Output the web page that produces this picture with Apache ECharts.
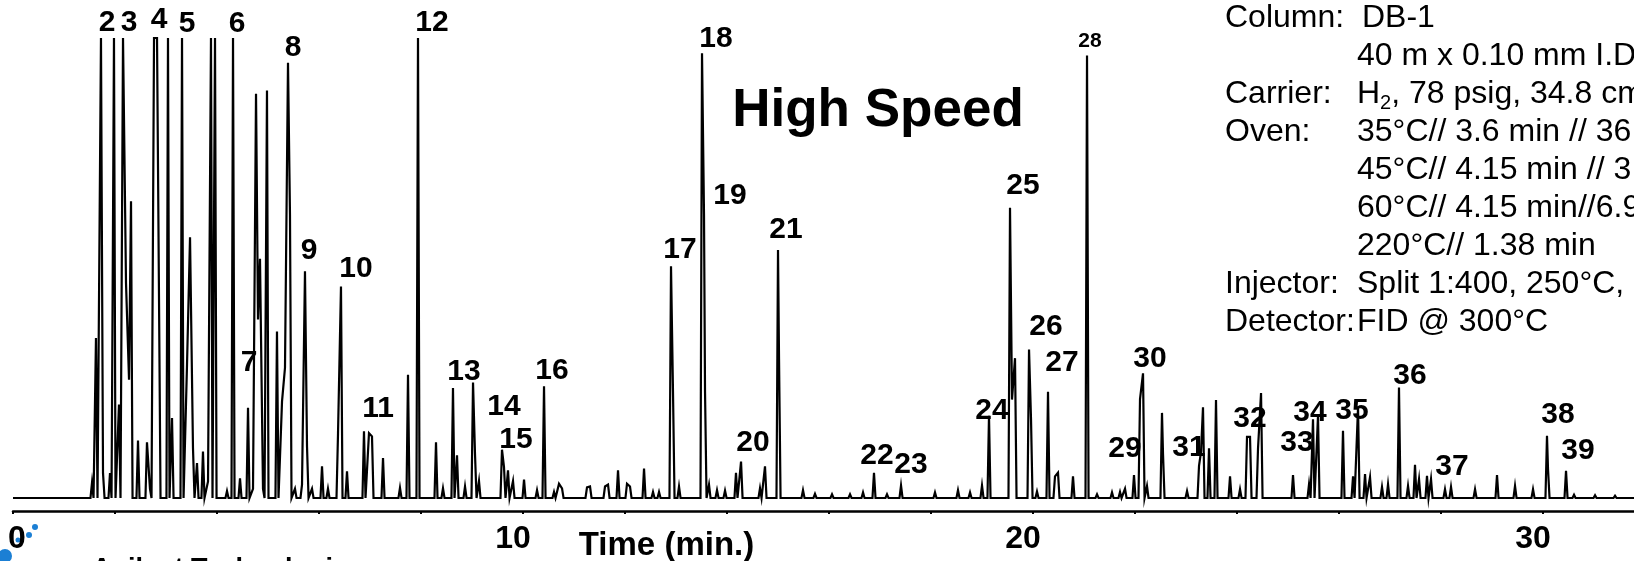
<!DOCTYPE html>
<html>

<head>
    <meta charset="utf-8">
    <script src="https://cdn.jsdelivr.net/npm/echarts/dist/echarts.min.js"></script>
    <style>
        body { margin: 0; background: #fff; }
        #chart { width: 1634px; height: 561px; }
    </style>
</head>

<body>
    <div id="chart"></div>
</body>

<script type='text/javascript'>

    // retention time (min) and peak height (% of full scale, 100 = off scale)
    var peakTimes = [
        1.549, 1.627, 1.725, 1.765, 1.902, 1.980, 2.078, 2.157, 2.216, 2.275, 2.314, 2.451, 2.627, 2.686,
        2.765, 2.824, 2.863, 3.039, 3.118, 3.314, 3.412, 3.471, 3.529, 3.608, 3.725, 3.824, 3.882, 3.961,
        4.196, 4.314, 4.451, 4.608, 4.706, 4.765, 4.804, 4.843, 4.902, 4.980, 5.176, 5.275, 5.333, 5.392,
        5.431, 5.529, 5.667, 5.725, 5.765, 5.863, 6.059, 6.176, 6.373, 6.431, 6.549, 6.882, 6.980, 7.039,
        7.255, 7.588, 7.745, 7.941, 8.294, 8.431, 8.627, 8.706, 8.863, 9.020, 9.059, 9.137, 9.588, 9.627,
        9.706, 9.804, 10.020, 10.275, 10.412, 10.608, 10.706, 10.765, 11.255, 11.314, 11.608, 11.667, 11.863,
        12.039, 12.098, 12.373, 12.549, 12.667, 12.902, 12.941, 13.059, 13.510, 13.549, 13.569, 13.647,
        13.804, 13.961, 14.176, 14.275, 14.647, 14.745, 15.000, 15.020, 15.490, 15.725, 16.059, 16.412,
        16.667, 16.882, 17.137, 17.412, 18.078, 18.529, 18.765, 19.000, 19.137, 19.549, 19.588, 19.647,
        19.922, 19.961, 20.078, 20.294, 20.431, 20.490, 20.784, 21.059, 21.255, 21.549, 21.706, 21.804,
        21.980, 22.098, 22.157, 22.235, 22.529, 22.549, 23.020, 23.255, 23.294, 23.333, 23.451, 23.588,
        23.863, 24.059, 24.196, 24.255, 24.412, 24.471, 25.098, 25.412, 25.490, 25.588, 26.078, 26.275,
        26.373, 26.510, 26.608, 26.843, 26.961, 27.176, 27.353, 27.490, 27.569, 27.725, 27.804, 28.078,
        28.196, 28.667, 29.098, 29.451, 29.804, 30.078, 30.098, 30.451, 30.608, 31.020, 31.412
    ];
    var peakHeights = [
        3.3, 34.8, 100, 5.4, 5.4, 100, 20.3, 100, 46.7, 25.7, 64.5, 12.5, 12.1, 2.0,
        100, 100, 100, 100, 17.4, 100, 29.0, 56.7, 10.9, 7.6, 10.1, 3.6, 100, 100,
        1.5, 100, 4.3, 19.6, 2.0, 87.9, 38.8, 52.0, 2.0, 88.6, 36.2, 21.0, 28.3, 94.6,
        61.6, 2.0, 2.9, 49.3, 11.2, 2.0, 6.9, 2.0, 14.1, 46.0, 5.8, 14.5, 14.1, 13.4,
        8.7, 2.2, 26.8, 100, 12.1, 2.1, 23.9, 9.3, 2.5, 25.1, 9.5, 3.7, 10.5, 6.8,
        6.0, 3.7, 4.0, 1.7, 24.3, 1.3, 3.1, 2.1, 2.3, 2.5, 2.5, 2.9, 6.0,
        3.1, 2.5, 6.4, 1.3, 1.3, 50.4, 23.1, 2.5, 96.7, 61.7, 23.1, 2.9,
        1.7, 1.6, 5.5, 7.9, 2.1, 6.9, 53.9, 30.3, 1.7, 0.9, 0.8, 0.8,
        1.2, 5.5, 0.8, 2.7, 1.2, 1.7, 1.2, 2.7, 17.9, 63.1, 21.4, 30.4,
        32.3, 17.1, 1.4, 23.1, 4.7, 5.5, 4.7, 96.2, 0.8, 1.2, 1.3, 2.0,
        5.0, 21.5, 27.1, 2.6, 18.5, 9.6, 1.5, 7.0, 10.0, 19.7, 10.8, 21.3,
        4.7, 1.9, 13.3, 13.3, 10.8, 22.8, 5.0, 3.0, 17.1, 17.8, 14.6, 4.7,
        19.7, 5.2, 4.5, 2.4, 3.0, 24.0, 2.6, 7.2, 4.1, 4.8, 4.1, 1.9,
        2.4, 1.9, 5.0, 2.6, 1.9, 13.5, 6.3, 5.9, 0.7, 0.6, 0.5
    ];

    // peak numbers and where their text sits (time, level)
    var labelNames = ['2', '3', '4', '5', '6', '7', '8', '9', '10', '11', '12', '13', '14', '15', '16', '17', '18', '19', '20',
        '21', '22', '23', '24', '25', '26', '27', '28', '29', '30', '31', '32', '33', '34', '35', '36', '37', '38', '39'];
    var labelTimes = [1.843, 2.275, 2.863, 3.412, 4.392, 4.627, 5.490, 5.804, 6.725, 7.157, 8.216, 8.843, 9.627, 9.863,
        10.569, 13.078, 13.784, 14.059, 14.510, 15.157, 16.941, 17.608, 19.196, 19.804, 20.255, 20.569, 21.118,
        21.804, 22.294, 23.059, 24.255, 25.176, 25.431, 26.255, 27.392, 28.216, 30.294, 30.686];
    var labelLevels = [103.3, 103.3, 103.9, 103.0, 103.0, 29.3, 97.8, 53.7, 49.8, 19.3, 103.3, 27.4, 19.8, 12.6,
        27.6, 53.9, 99.8, 65.7, 12.0, 58.3, 9.1, 7.2, 18.9, 67.8, 37.2, 29.3, 99.3,
        10.7, 30.2, 10.9, 17.2, 12.0, 18.5, 18.9, 26.5, 6.7, 18.0, 10.2];

    var tickLabels = [0, 10, 20, 30];
    var xMax = 31.784;

    var infoKeys = ['Column:', '', 'Carrier:', 'Oven:', '', '', '', 'Injector:', 'Detector:'];
    var infoValues = [
        'DB-1',
        '40 m x 0.10 mm I.D.',
        '{n|H}{s|2}{n|, 78 psig, 34.8 cm/sec}',
        '35°C// 3.6 min // 36.5°C/min',
        '45°C// 4.15 min // 3.6°C/min',
        '60°C// 4.15 min//6.9°C/min',
        '220°C// 1.38 min',
        'Split 1:400, 250°C, 0.1 µL',
        'FID @ 300°C'
    ];

    // trace: each peak is a narrow spike; neighbours closer than a spike width join directly
    var W = 0.03;
    var trace = [[0, 0]];
    for (var i = 0; i < peakTimes.length; i++) {
        var t = peakTimes[i];
        if (i === 0 || t - peakTimes[i - 1] > 2 * W + 1e-6) trace.push([t - W, 0]);
        trace.push([t, peakHeights[i]]);
        if (i === peakTimes.length - 1 || peakTimes[i + 1] - t > 2 * W + 1e-6) trace.push([t + W, 0]);
    }
    trace.push([xMax, 0]);

    var labelData = labelNames.map(function (name, k) {
        var item = { name: name, value: [labelTimes[k], labelLevels[k]] };
        if (name === '28') item.label = { fontSize: 21 };
        return item;
    });

    var FONT = 'Liberation Sans, Arial, Helvetica, sans-serif';

    var graphics = [{
        type: 'text', x: 878, y: 111, silent: true,
        style: { text: 'High Speed', fontSize: 53, fontWeight: 'bold', fontFamily: FONT, fill: '#000', align: 'center', verticalAlign: 'middle' }
    }, {
        type: 'text', x: 92, y: 556, silent: true,
        style: { text: 'Agilent Technologies', fontSize: 27, fontWeight: 'bold', fontFamily: FONT, fill: '#000', align: 'left', verticalAlign: 'top' }
    }];
    // little blue logo dots in the corner
    [[5, 556, 7], [35, 527, 3], [29, 535, 3], [18, 540, 2.5]].forEach(function (c) {
        graphics.push({ type: 'circle', silent: true, shape: { cx: c[0], cy: c[1], r: c[2] }, style: { fill: '#1b7fd4' } });
    });
    infoKeys.forEach(function (key, k) {
        var y = 18 + k * 38;
        if (key) graphics.push({
            type: 'text', x: 1225, y: y, silent: true,
            style: { text: key, fontSize: 32, fontFamily: FONT, fill: '#000', align: 'left', verticalAlign: 'middle' }
        });
        graphics.push({
            type: 'text', x: k === 0 ? 1362 : 1357, y: y, silent: true,
            style: {
                text: infoValues[k], fontSize: 32, fontFamily: FONT, fill: '#000', align: 'left', verticalAlign: 'middle',
                rich: {
                    n: { fontSize: 32, fontFamily: FONT, lineHeight: 38 },
                    s: { fontSize: 20, fontFamily: FONT, lineHeight: 16, verticalAlign: 'bottom' }
                }
            }
        });
    });

    var option = {
        animation: false,
        backgroundColor: '#fff',
        grid: { left: 13, right: 0, top: 0, bottom: 50, containLabel: false, outerBoundsMode: 'none' },
        xAxis: {
            type: 'value',
            min: 0,
            max: xMax,
            interval: 2,
            splitLine: { show: false },
            axisLine: { onZero: false, lineStyle: { color: '#000', width: 2.5 } },
            axisTick: { length: 3, lineStyle: { color: '#000', width: 2 } },
            axisLabel: {
                margin: 12,
                showMaxLabel: false,
                formatter: function (v) {
                    if (tickLabels.indexOf(v) < 0) return '';
                    return v === 0 ? '{z|0}' : '{n|' + v + '}';
                },
                rich: {
                    z: { fontSize: 32, fontWeight: 'bold', fontFamily: FONT, color: '#000', padding: [0, 0, 0, 8] },
                    n: { fontSize: 32, fontWeight: 'bold', fontFamily: FONT, color: '#000', padding: [0, 20, 0, 0] }
                }
            },
            name: 'Time (min.)',
            nameLocation: 'middle',
            nameGap: 18,
            nameMoveOverlap: false,
            nameTextStyle: { fontSize: 33, fontWeight: 'bold', fontFamily: FONT, color: '#000', padding: [0, 314, 0, 0], verticalAlign: 'top' }
        },
        yAxis: {
            type: 'value',
            min: -2.826,
            max: 108.26,
            show: false
        },
        series: [{
            type: 'line',
            data: trace,
            showSymbol: false,
            symbol: 'none',
            clip: false,
            lineStyle: { color: '#000', width: 2.2, join: 'miter' }
        }, {
            type: 'scatter',
            data: labelData,
            symbolSize: 0.1,
            clip: false,
            silent: true,
            itemStyle: { color: '#fff', opacity: 1 },
            label: {
                show: true,
                position: 'inside',
                formatter: '{b}',
                fontSize: 30,
                fontWeight: 'bold',
                fontFamily: FONT,
                color: '#000',
                opacity: 1
            }
        }],
        graphic: graphics
    };

    var chart = echarts.init(document.getElementById('chart'));
    chart.setOption(option);
</script>

</html>
